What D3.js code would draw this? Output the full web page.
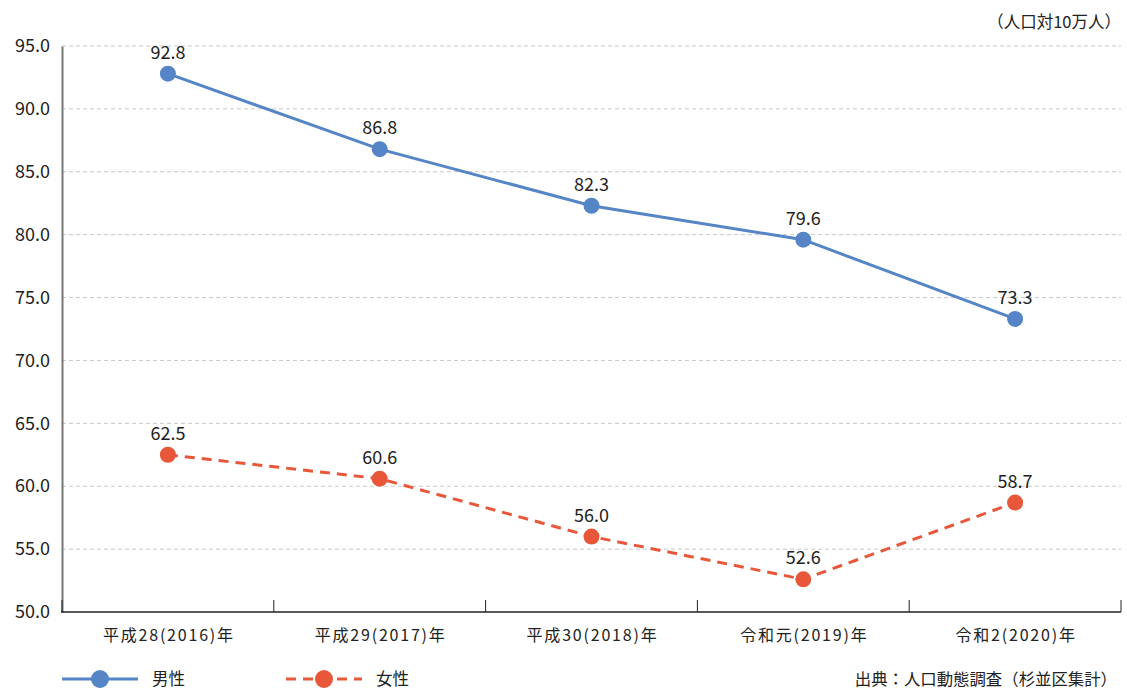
<!DOCTYPE html>
<html>
<head>
<meta charset="utf-8">
<script src="https://cdn.jsdelivr.net/npm/d3@7"></script>
<style>
  html, body { margin: 0; padding: 0; background: #fff; }
  svg text { font-family: "Noto Sans CJK JP", "Noto Sans", sans-serif; fill: #222; }
</style>
</head>
<body>
<svg id="chart" width="1127" height="690"></svg>
<script>
// 年次ラベル
const categories = ["平成28(2016)年", "平成29(2017)年", "平成30(2018)年", "令和元(2019)年", "令和2(2020)年"];
// 男性（人口対10万人）
const maleValues = [92.8, 86.8, 82.3, 79.6, 73.3];
// 女性（人口対10万人）
const femaleValues = [62.5, 60.6, 56.0, 52.6, 58.7];
// 縦軸目盛
const yTicks = [50, 55, 60, 65, 70, 75, 80, 85, 90, 95];
const seriesNames = ["男性", "女性"];
const unitLabel = "（人口対10万人）";
const sourceLabel = "出典：人口動態調査（杉並区集計）";

const svg = d3.select("#chart");
const plotLeft = 62, plotRight = 1121, plotTop = 46, plotBottom = 612;

const x = d3.scaleBand().domain(categories).range([plotLeft, plotRight]).paddingInner(0).paddingOuter(0);
const y = d3.scaleLinear().domain([50, 95]).range([plotBottom, plotTop]);

const blue = "#5585c6";
const orange = "#e9573a";

// 横グリッド線
svg.append("g").selectAll("line")
  .data(yTicks.filter(d => d !== 50))
  .join("line")
  .attr("x1", plotLeft).attr("x2", plotRight)
  .attr("y1", d => y(d)).attr("y2", d => y(d))
  .attr("stroke", "#c8c8c8").attr("stroke-width", 1)
  .attr("stroke-dasharray", "4,3");

// 縦軸
const yAxis = d3.axisLeft(y).tickValues(yTicks).tickSize(0).tickPadding(12)
  .tickFormat(d3.format(".1f"));
const gy = svg.append("g").attr("transform", `translate(${plotLeft},0)`).call(yAxis);
gy.select(".domain").attr("stroke", "#777").attr("stroke-width", 2);
gy.selectAll("text").style("font-size", "18px").attr("fill", "#222")
  .attr("font-family", null);

// 横軸（目盛は内向き）
const gx = svg.append("g").attr("transform", `translate(0,${plotBottom})`);
gx.append("line").attr("x1", plotLeft - 1).attr("x2", plotRight).attr("y1", 0).attr("y2", 0)
  .attr("stroke", "#222").attr("stroke-width", 1.5);
const bounds = categories.map(c => x(c)).concat([x(categories[categories.length - 1]) + x.bandwidth()]);
gx.selectAll("line.tick").data(bounds).join("line").attr("class", "tick")
  .attr("x1", d => d).attr("x2", d => d).attr("y1", 0).attr("y2", -12)
  .attr("stroke", "#222").attr("stroke-width", 1);
gx.selectAll("text").data(categories).join("text")
  .attr("x", d => x(d) + x.bandwidth() / 2 + 1).attr("y", 29)
  .attr("text-anchor", "middle").style("font-size", "16px")
  .style("letter-spacing", "1.8px")
  .text(d => d);

const cx = d => x(d) + x.bandwidth() / 2;
const line = d3.line().x(d => cx(d.c)).y(d => y(d.v));

function drawSeries(values, color, dash) {
  const data = values.map((v, i) => ({ c: categories[i], v }));
  const g = svg.append("g");
  g.append("path").datum(data).attr("d", line)
    .attr("fill", "none").attr("stroke", color).attr("stroke-width", 3)
    .attr("stroke-dasharray", dash || null);
  g.selectAll("circle").data(data).join("circle")
    .attr("cx", d => cx(d.c)).attr("cy", d => y(d.v)).attr("r", 8)
    .attr("fill", color);
  g.selectAll("text").data(data).join("text")
    .attr("x", d => cx(d.c)).attr("y", d => y(d.v) - 15)
    .attr("text-anchor", "middle").style("font-size", "18px")
    .text(d => d.v.toFixed(1));
}
drawSeries(maleValues, blue, null);
drawSeries(femaleValues, orange, "10,7");

// 単位
svg.append("text").attr("x", plotRight).attr("y", 28).attr("text-anchor", "end")
  .style("font-size", "16.5px").text(unitLabel);

// 凡例
const legend = [
  { name: seriesNames[0], color: blue, dash: null, x0: 62 },
  { name: seriesNames[1], color: orange, dash: "10,7", x0: 286 }
];
const lg = svg.append("g");
legend.forEach(d => {
  lg.append("line").attr("x1", d.x0).attr("x2", d.x0 + 76).attr("y1", 679).attr("y2", 679)
    .attr("stroke", d.color).attr("stroke-width", 3).attr("stroke-dasharray", d.dash);
  lg.append("circle").attr("cx", d.x0 + 38).attr("cy", 679).attr("r", 9).attr("fill", d.color);
  lg.append("text").attr("x", d.x0 + 90).attr("y", 685).style("font-size", "16.5px").text(d.name);
});

// 出典
svg.append("text").attr("x", 1117).attr("y", 685).attr("text-anchor", "end")
  .style("font-size", "16.4px").text(sourceLabel);
</script>
</body>
</html>
